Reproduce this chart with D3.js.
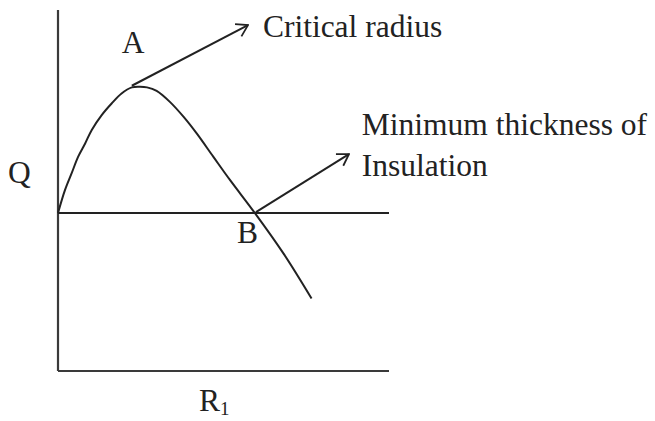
<!DOCTYPE html>
<html>
<head>
<meta charset="utf-8">
<script src="https://cdn.jsdelivr.net/npm/d3@7"></script>
<style>
  body { margin: 0; background: #fff; }
  svg text { font-family: "Liberation Serif", "Times New Roman", serif; fill: #222; }
</style>
</head>
<body>
<svg id="chart" width="655" height="421"></svg>
<script>
// curve Q vs R1
var curveR = [0, 0.21, 0.41, 0.61, 0.82, 1.02, 1.32, 1.62, 1.92, 2.23, 2.48, 2.69, 2.98, 3.38, 3.79, 4.19, 4.69, 5.20, 5.95, 6.81, 7.66];
var curveQ = [0, 0.71, 1.23, 1.75, 2.16, 2.58, 3.04, 3.40, 3.71, 3.90, 3.92, 3.90, 3.79, 3.45, 2.99, 2.47, 1.75, 1.02, 0, -1.25, -2.65];

// annotation arrows: [R, Q] from and to
var arrowNames = ["critical", "minimum"];
var arrowFrom = [[2.23, 3.95], [5.98, 0.03]];
var arrowTo = [[5.74, 5.83], [8.79, 1.83]];

// labels
var labelText = ["A", "Critical radius", "Minimum thickness of", "Insulation", "Q", "B"];
var labelR = [2.27, 6.19, 9.18, 9.18, -1.51, 5.41];
var labelQ = [4.97, 5.46, 2.42, 1.15, 0.93, -0.93];

var svg = d3.select("#chart");

var x = d3.scaleLinear().domain([0, 10]).range([58, 389]);
var y = d3.scaleLinear().domain([-4.9, 6.3]).range([371, 10]);

var ink = "#222";

// axes (no ticks)
svg.append("line")
    .attr("x1", x(0)).attr("y1", y(6.3))
    .attr("x2", x(0)).attr("y2", y(-4.9))
    .attr("stroke", "#3a3a3a").attr("stroke-width", 2.2);
svg.append("line")
    .attr("x1", x(0)).attr("y1", y(-4.9))
    .attr("x2", x(10)).attr("y2", y(-4.9))
    .attr("stroke", "#3a3a3a").attr("stroke-width", 2.2);

// Q = 0 line
svg.append("line")
    .attr("x1", x(0)).attr("y1", y(0))
    .attr("x2", x(10)).attr("y2", y(0))
    .attr("stroke", ink).attr("stroke-width", 2);

// curve
var pts = curveR.map(function (r, i) { return [r, curveQ[i]]; });
var line = d3.line()
    .x(function (d) { return x(d[0]); })
    .y(function (d) { return y(d[1]); })
    .curve(d3.curveCatmullRom.alpha(0.5));

svg.append("path")
    .datum(pts)
    .attr("d", line)
    .attr("fill", "none")
    .attr("stroke", ink)
    .attr("stroke-width", 2);

// open arrowhead
svg.append("defs").append("marker")
    .attr("id", "head")
    .attr("viewBox", "0 -8 13 16")
    .attr("refX", 12).attr("refY", 0)
    .attr("markerWidth", 13).attr("markerHeight", 16)
    .attr("markerUnits", "userSpaceOnUse")
    .attr("orient", "auto")
    .append("path")
    .attr("d", "M1,-6.9 L12,0 L1,6.9")
    .attr("fill", "none")
    .attr("stroke", ink)
    .attr("stroke-width", 1.8);

svg.selectAll(".arrow")
    .data(arrowNames)
    .enter()
    .append("line")
    .attr("class", "arrow")
    .attr("x1", function (d, i) { return x(arrowFrom[i][0]); })
    .attr("y1", function (d, i) { return y(arrowFrom[i][1]); })
    .attr("x2", function (d, i) { return x(arrowTo[i][0]); })
    .attr("y2", function (d, i) { return y(arrowTo[i][1]); })
    .attr("stroke", ink)
    .attr("stroke-width", 2)
    .attr("marker-end", "url(#head)");

// text labels
svg.selectAll(".lbl")
    .data(labelText)
    .enter()
    .append("text")
    .attr("class", "lbl")
    .attr("x", function (d, i) { return x(labelR[i]); })
    .attr("y", function (d, i) { return y(labelQ[i]); })
    .attr("text-anchor", function (d) { return d == "A" ? "middle" : "start"; })
    .style("font-size", "31.5px")
    .text(function (d) { return d; });

// axis title R1
var rt = svg.append("text")
    .attr("x", x(4.26))
    .attr("y", y(-6.15))
    .style("font-size", "31.5px")
    .text("R");
rt.append("tspan")
    .attr("dy", 4)
    .style("font-size", "19px")
    .text("1");
</script>
</body>
</html>
